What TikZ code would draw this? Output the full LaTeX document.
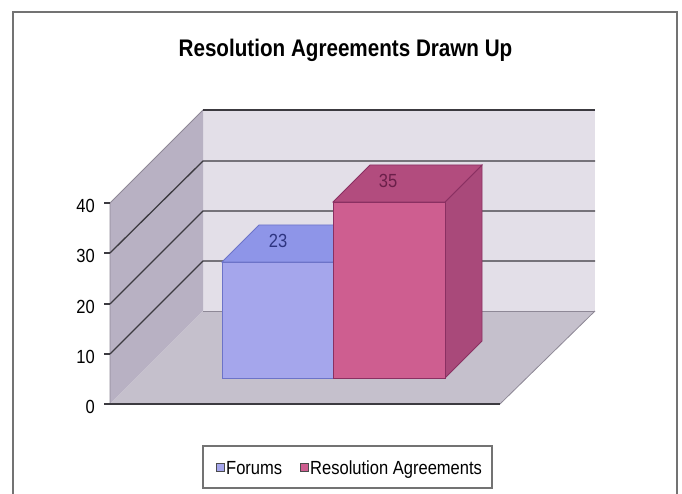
\documentclass[tikz,border=0pt]{standalone}
\usepackage{fontspec}
\setmainfont{Liberation Sans}
\newfontfamily\titlefont[FakeStretch=0.86]{Liberation Sans}
\newfontfamily\chartfont[FakeStretch=0.87]{Liberation Sans}
\usetikzlibrary{calc}

\definecolor{backwall}{HTML}{E3DFE8}
\definecolor{leftwall}{HTML}{B8B1C3}
\definecolor{floorcol}{HTML}{C5C0CC}
\definecolor{gridgray}{HTML}{3C3A40}
\definecolor{edgegray}{HTML}{8E8896}
\definecolor{forumfront}{HTML}{A5A6EC}
\definecolor{forumtop}{HTML}{8E95E8}
\definecolor{forumedge}{HTML}{6C73C8}
\definecolor{forumtext}{HTML}{2E3480}
\definecolor{resfront}{HTML}{CE5E90}
\definecolor{restop}{HTML}{B24C7E}
\definecolor{resside}{HTML}{A9497A}
\definecolor{resedge}{HTML}{8A3062}
\definecolor{restext}{HTML}{6B1F4A}

\begin{document}
\begin{tikzpicture}[x=1pt,y=-1pt,
    gridline/.style={line width=1.3pt,draw=gridgray},
    axislabel/.style={anchor=east,inner sep=0pt,font=\chartfont\fontsize{19}{20}\selectfont},
    legendtext/.style={anchor=base west,inner sep=0pt,font=\chartfont\fontsize{19}{20}\selectfont},
    legendbox/.style={draw=black!70,line width=0.8pt,minimum size=8pt,inner sep=0pt}]
    \useasboundingbox (0,0) rectangle (682,494);

    % outer frame
    \coordinate (O0) at (13,494);
    \coordinate (O1) at (13,12);
    \coordinate (O2) at (677,12);
    \coordinate (O3) at (677,494);
    \draw [line width=1.2pt,draw=black!55] (O0) -- (O1) -- (O2) -- (O3);

    % walls and floor
    \coordinate (A0) at (110,404);
    \coordinate (A1) at (500,404);
    \coordinate (A2) at (595,311);
    \coordinate (A3) at (203,311);
    \coordinate (A4) at (203,110);
    \coordinate (A5) at (595,110);
    \coordinate (A6) at (110,203);

    \fill [backwall] (A3) -- (A4) -- (A5) -- (A2) -- cycle;
    \fill [leftwall] (A0) -- (A6) -- (A4) -- (A3) -- cycle;
    \fill [floorcol] (A0) -- (A1) -- (A2) -- (A3) -- cycle;
    \draw [edgegray,line width=0.8pt] (A0) -- (A6) -- (A4);
    \draw [edgegray,line width=0.8pt] (A1) -- (A2);
    \draw [edgegray,line width=0.8pt] (A3) -- (A2);
    \draw [gridline] (A0) -- (A1);
    \draw [gridline] (A4) -- (A5);

    % grid lines
    \coordinate (G1) at (110,354);
    \coordinate (G2) at (110,304);
    \coordinate (G3) at (110,253);
    \coordinate (H1) at (203,261);
    \coordinate (H2) at (203,211);
    \coordinate (H3) at (203,161);
    \coordinate (K1) at (595,261);
    \coordinate (K2) at (595,211);
    \coordinate (K3) at (595,161);

    \draw [gridline] (G1) -- (H1) -- (K1);
    \draw [gridline] (G2) -- (H2) -- (K2);
    \draw [gridline] (G3) -- (H3) -- (K3);

    % ticks and axis labels
    \draw [gridline] (A0) -- ++(-6,0);
    \draw [gridline] (G1) -- ++(-6,0);
    \draw [gridline] (G2) -- ++(-6,0);
    \draw [gridline] (G3) -- ++(-6,0);
    \draw [gridline] (A6) -- ++(-6,0);
    \node [axislabel] (y0) at (95,407) {0};
    \node [axislabel] (y10) at (95,357) {10};
    \node [axislabel] (y20) at (95,307) {20};
    \node [axislabel] (y30) at (95,256) {30};
    \node [axislabel] (y40) at (95,206) {40};

    % Forums bar
    \coordinate (B0) at (222,378);
    \coordinate (B1) at (333,378);
    \coordinate (B2) at (333,262);
    \coordinate (B3) at (222,262);
    \coordinate (B4) at (259,225);
    \coordinate (B5) at (370,225);
    \fill [forumtop,draw=forumedge,line width=0.8pt] (B3) -- (B2) -- (B5) -- (B4) -- cycle;
    \fill [forumfront,draw=forumedge,line width=0.8pt] (B0) -- (B1) -- (B2) -- (B3) -- cycle;

    % Resolution Agreements bar
    \coordinate (C0) at (333,378);
    \coordinate (C1) at (445,378);
    \coordinate (C2) at (445,202);
    \coordinate (C3) at (333,202);
    \coordinate (C4) at (370,165);
    \coordinate (C5) at (482,165);
    \coordinate (C6) at (482,341);
    \fill [resside,draw=resedge,line width=0.8pt] (C1) -- (C2) -- (C5) -- (C6) -- cycle;
    \fill [restop,draw=resedge,line width=0.8pt] (C3) -- (C2) -- (C5) -- (C4) -- cycle;
    \fill [resfront,draw=resedge,line width=0.8pt] (C0) -- (C1) -- (C2) -- (C3) -- cycle;

    % value labels
    \node [text=forumtext,font=\chartfont\fontsize{19}{20}\selectfont] (v23) at (278,241) {23};
    \node [text=restext,font=\chartfont\fontsize{19}{20}\selectfont] (v35) at (388,181) {35};

    % title
    \node [anchor=base,inner sep=0pt,font=\titlefont\bfseries\fontsize{24}{26}\selectfont] (title) at (345.5,57) {Resolution Agreements Drawn Up};

    % legend
    \coordinate (L0) at (203,446);
    \coordinate (L1) at (492,488);
    \draw [line width=1.2pt,draw=black!55] (L0) rectangle (L1);
    \node [legendbox,fill=forumfront] (keyforums) at (220,467) {};
    \node [legendtext] (labforums) at (226,474) {Forums};
    \node [legendbox,fill=resfront] (keyres) at (304,467) {};
    \node [legendtext] (labres) at (310,474) {Resolution Agreements};
\end{tikzpicture}
\end{document}
